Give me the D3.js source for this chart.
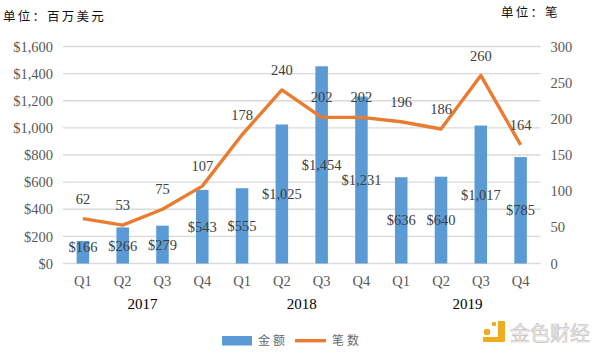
<!DOCTYPE html>
<html>
<head>
<meta charset="utf-8">
<script src="https://cdn.jsdelivr.net/npm/d3@7"></script>
<style>
  body { margin: 0; background: #fff; }
  text { font-family: "Liberation Serif", serif; }
  .cjk { font-family: "Noto Sans CJK SC", sans-serif; }
</style>
</head>
<body>
<div id="chart"></div>
<script>
// values
const quarters = ["Q1","Q2","Q3","Q4","Q1","Q2","Q3","Q4","Q1","Q2","Q3","Q4"]
const amounts  = [166,266,279,543,555,1025,1454,1231,636,640,1017,785]
const counts   = [62,53,75,107,178,240,202,202,196,186,260,164]
const years    = ["2017","2018","2019"]
const leftTicks  = [0,200,400,600,800,1000,1200,1400,1600]
const rightTicks = [0,50,100,150,200,250,300]

const W = 600, H = 353
const margin = { top: 46.5, right: 59.5, bottom: 89.5, left: 63 }
const width  = W - margin.left - margin.right
const height = H - margin.top - margin.bottom

const svg = d3.select("#chart").append("svg")
  .attr("width", W).attr("height", H)
  .style("display", "block")

const g = svg.append("g").attr("transform", `translate(${margin.left},${margin.top})`)

// index based band scale, the quarter names repeat
const x = d3.scaleBand().domain(d3.range(quarters.length)).range([0, width]).paddingInner(0.685).paddingOuter(0.3425)
const yL = d3.scaleLinear().domain([0, 1600]).range([height, 0])
const yR = d3.scaleLinear().domain([0, 300]).range([height, 0])
const cx = i => x(i) + x.bandwidth() / 2

// gridlines
g.selectAll(".grid").data(leftTicks).join("line")
  .attr("x1", 0).attr("x2", width)
  .attr("y1", d => yL(d)).attr("y2", d => yL(d))
  .attr("stroke", "#d9d9d9").attr("stroke-width", 1.3)

// axes
const axisL = g.append("g")
  .call(d3.axisLeft(yL).tickValues(leftTicks).tickSize(0).tickPadding(10).tickFormat(d3.format("$,")))
axisL.select(".domain").remove()

const axisR = g.append("g").attr("transform", `translate(${width},0)`)
  .call(d3.axisRight(yR).tickValues(rightTicks).tickSize(0).tickPadding(10))
axisR.select(".domain").remove()

const axisB = g.append("g").attr("transform", `translate(0,${height})`)
  .call(d3.axisBottom(x).tickSize(0).tickPadding(12).tickFormat(i => quarters[i]))
axisB.select(".domain").remove()

g.selectAll(".tick text")
  .style("font-family", '"Liberation Serif", serif')
  .style("font-size", "14.5px")
  .attr("fill", "#595959")

// bars
g.selectAll(".bar").data(amounts).join("rect")
  .attr("class", "bar")
  .attr("x", (d, i) => x(i))
  .attr("y", d => yL(d))
  .attr("width", x.bandwidth())
  .attr("height", d => height - yL(d))
  .attr("fill", "#5b9bd5")

// line
const line = d3.line().x((d, i) => cx(i)).y(d => yR(d))
g.append("path").datum(counts)
  .attr("d", line)
  .attr("fill", "none")
  .attr("stroke", "#e97c30")
  .attr("stroke-width", 3.4)
  .attr("stroke-linejoin", "round")

// bar labels sit at the bar's middle, the first one was nudged up in the original
g.selectAll(".amt").data(amounts).join("text")
  .attr("x", (d, i) => cx(i))
  .attr("y", (d, i) => (yL(d) + height) / 2 - (i === 0 ? 5.5 : 0))
  .attr("dy", "0.35em")
  .attr("text-anchor", "middle")
  .style("font-size", "14.5px")
  .attr("fill", "#404040")
  .text(d3.format("$,"))

// line labels
g.selectAll(".cnt").data(counts).join("text")
  .attr("x", (d, i) => cx(i))
  .attr("y", d => yR(d) - 20)
  .attr("dy", "0.35em")
  .attr("text-anchor", "middle")
  .style("font-size", "14.5px")
  .attr("fill", "#404040")
  .text(d => d)

// year labels
const yearX = [cx(1) + (cx(2) - cx(1)) / 2, cx(5) + (cx(6) - cx(5)) / 2, cx(9) + (cx(10) - cx(9)) / 2 + 6.5]
svg.selectAll(".year").data(years).join("text")
  .attr("x", (d, i) => margin.left + yearX[i])
  .attr("y", 308.5)
  .attr("text-anchor", "middle")
  .style("font-size", "15px")
  .attr("fill", "#000")
  .text(d => d)

// unit captions
svg.append("text").attr("class", "cjk")
  .attr("x", 3).attr("y", 21)
  .style("font-size", "12.5px").style("letter-spacing", "2.2px")
  .attr("fill", "#111")
  .text("单位：百万美元")
svg.append("text").attr("class", "cjk")
  .attr("x", 501).attr("y", 17)
  .style("font-size", "12.5px").style("letter-spacing", "2.2px")
  .attr("fill", "#111")
  .text("单位：笔")

// legend
const legend = svg.append("g")
legend.append("rect").attr("x", 222).attr("y", 336).attr("width", 30).attr("height", 9.5).attr("fill", "#5b9bd5")
legend.append("text").attr("class", "cjk").attr("x", 258).attr("y", 345)
  .style("font-size", "12px").style("letter-spacing", "3px").attr("fill", "#6a6a6a").text("金额")
legend.append("line").attr("x1", 295).attr("x2", 326).attr("y1", 340.7).attr("y2", 340.7)
  .attr("stroke", "#e97c30").attr("stroke-width", 3.4)
legend.append("text").attr("class", "cjk").attr("x", 332).attr("y", 345)
  .style("font-size", "12px").style("letter-spacing", "3px").attr("fill", "#6a6a6a").text("笔数")

// watermark
const mark = svg.append("g")
mark.append("path")
  .attr("d", "M497,321 h7 q1,0 1,1 v19 q0,1 -1,1 h-20 q-1,0 -1,-1 v-4 h15 v-16 z")
  .attr("fill", "#f0ab1e")
mark.append("rect").attr("x", 484).attr("y", 329).attr("width", 6).attr("height", 6).attr("rx", 1.5).attr("fill", "#f0ab1e")
mark.append("rect").attr("x", 492).attr("y", 322).attr("width", 4).attr("height", 4).attr("rx", 1).attr("fill", "#f0ab1e")
mark.append("text").attr("class", "cjk").attr("x", 510).attr("y", 340.5)
  .style("font-size", "20px").attr("fill", "#f2f2f2").attr("stroke", "#c6c6c6").attr("stroke-width", 0.7)
  .text("金色财经")
</script>
</body>
</html>
